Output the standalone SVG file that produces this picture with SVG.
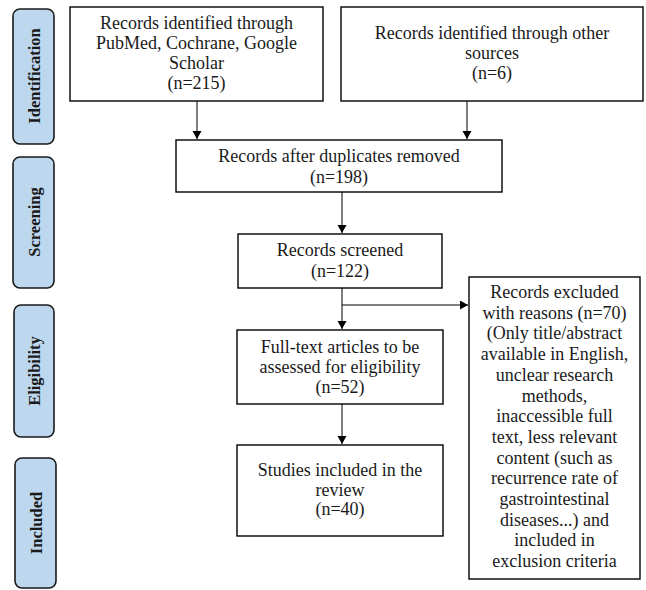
<svg xmlns="http://www.w3.org/2000/svg" width="646" height="590" viewBox="0 0 646 590">
<defs>
<style>
.box{fill:#fff;stroke:#000;stroke-width:1.4}
.phase{fill:#bdd7ee;stroke:#1a1a1a;stroke-width:1.6}
text{font-family:'Liberation Serif',Tinos,'Times New Roman',Times,'DejaVu Serif',serif}
.t{font-size:18px;fill:#1a1a1a;text-anchor:middle}
.p{font-size:16.5px;font-weight:bold;fill:#1a1a1a;text-anchor:middle;dominant-baseline:central}
.c{stroke:#000;stroke-width:1;fill:none;marker-end:url(#ah)}
</style>
<marker id="ah" markerUnits="userSpaceOnUse" markerWidth="10" markerHeight="10" refX="8" refY="4.5" orient="auto">
<path d="M0,0 L8,4.5 L0,9 Z" fill="#000"/>
</marker>
</defs>
<rect width="646" height="590" fill="#fff"/>
<g id="phase-identification"><rect class="phase" x="13" y="9" width="41" height="135" rx="7"/><text class="p" transform="translate(34,76) rotate(-90)">Identification</text></g>
<g id="phase-screening"><rect class="phase" x="13" y="157" width="41" height="131" rx="7"/><text class="p" transform="translate(34,222) rotate(-90)">Screening</text></g>
<g id="phase-eligibility"><rect class="phase" x="14" y="305" width="40" height="132" rx="7"/><text class="p" transform="translate(34,371) rotate(-90)">Eligibility</text></g>
<g id="phase-included"><rect class="phase" x="15" y="458" width="41" height="130" rx="7"/><text class="p" transform="translate(36,523) rotate(-90)">Included</text></g>
<g id="connectors">
<line class="c" x1="197" y1="101" x2="197" y2="139"/>
<line class="c" x1="467" y1="101" x2="467" y2="139"/>
<line class="c" x1="342" y1="192" x2="342" y2="233"/>
<line class="c" x1="342" y1="288" x2="342" y2="329"/>
<line class="c" x1="342" y1="305" x2="468" y2="305"/>
<line class="c" x1="342" y1="404" x2="342" y2="444"/>
</g>
<g id="node-pubmed"><rect class="box" x="70" y="7" width="253" height="94"/>
<text class="t" x="196.5" y="29">Records identified through</text>
<text class="t" x="196.5" y="49">PubMed, Cochrane, Google</text>
<text class="t" x="196.5" y="69">Scholar</text>
<text class="t" x="196.5" y="89">(n=215)</text></g>
<g id="node-other"><rect class="box" x="341" y="7" width="302" height="94"/>
<text class="t" x="492" y="39">Records identified through other</text>
<text class="t" x="492" y="59">sources</text>
<text class="t" x="492" y="79">(n=6)</text></g>
<g id="node-duplicates"><rect class="box" x="176" y="140" width="326" height="52"/>
<text class="t" x="339" y="162">Records after duplicates removed</text>
<text class="t" x="339" y="183">(n=198)</text></g>
<g id="node-screened"><rect class="box" x="238" y="234" width="204" height="54"/>
<text class="t" x="340" y="256">Records screened</text>
<text class="t" x="340" y="277">(n=122)</text></g>
<g id="node-fulltext"><rect class="box" x="237" y="330" width="206" height="74"/>
<text class="t" x="340" y="353">Full-text articles to be</text>
<text class="t" x="340" y="373">assessed for eligibility</text>
<text class="t" x="340" y="393">(n=52)</text></g>
<g id="node-included"><rect class="box" x="237" y="445" width="206" height="91"/>
<text class="t" x="340" y="476">Studies included in the</text>
<text class="t" x="340" y="496">review</text>
<text class="t" x="340" y="515">(n=40)</text></g>
<g id="node-excluded"><rect class="box" x="469" y="277" width="171" height="302"/>
<text class="t" x="554.5" y="298">Records excluded</text>
<text class="t" x="554.5" y="318.7">with reasons (n=70)</text>
<text class="t" x="554.5" y="339.4">(Only title/abstract</text>
<text class="t" x="554.5" y="360.1">available in English,</text>
<text class="t" x="554.5" y="380.8">unclear research</text>
<text class="t" x="554.5" y="401.5">methods,</text>
<text class="t" x="554.5" y="422.2">inaccessible full</text>
<text class="t" x="554.5" y="442.9">text, less relevant</text>
<text class="t" x="554.5" y="463.6">content (such as</text>
<text class="t" x="554.5" y="484.3">recurrence rate of</text>
<text class="t" x="554.5" y="505">gastrointestinal</text>
<text class="t" x="554.5" y="525.7">diseases...) and</text>
<text class="t" x="554.5" y="546.4">included in</text>
<text class="t" x="554.5" y="567.1">exclusion criteria</text></g>
</svg>
